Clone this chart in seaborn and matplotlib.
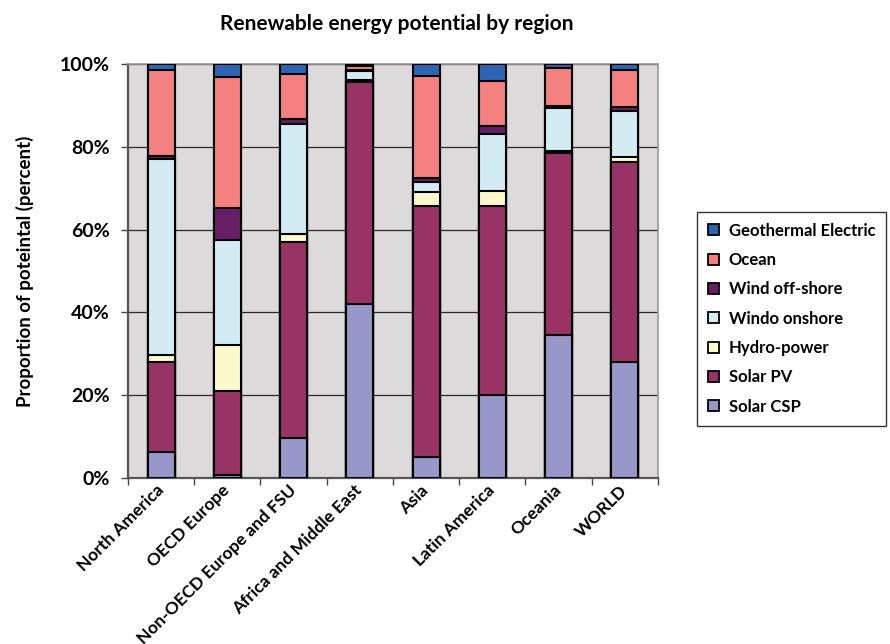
import numpy as np
import pandas as pd
import matplotlib
matplotlib.use("Agg")
import matplotlib.pyplot as plt
from matplotlib.patches import Patch
from matplotlib.ticker import PercentFormatter, FixedLocator
import seaborn as sns

regions = ["North America", "OECD Europe", "Non-OECD Europe and FSU",
           "Africa and Middle East", "Asia", "Latin America", "Oceania", "WORLD"]

solar_csp = [6.2, 0.8, 9.7, 42.0, 5.1, 20.1, 34.5, 28.0]
solar_pv = [21.7, 20.1, 47.2, 53.7, 60.6, 45.6, 44.1, 48.4]
hydro = [1.8, 11.3, 2.0, 0.4, 3.3, 3.7, 0.3, 1.2]
wind_onshore = [47.3, 25.2, 26.5, 2.1, 2.6, 13.7, 10.4, 11.1]
wind_offshore = [0.8, 7.8, 1.2, 0.4, 0.8, 2.0, 0.6, 0.8]
ocean = [20.8, 31.7, 11.1, 0.9, 24.7, 10.9, 9.1, 9.1]
geothermal = [1.4, 3.1, 2.3, 0.5, 2.9, 4.0, 1.0, 1.4]

series_names = ["Solar CSP", "Solar PV", "Hydro-power", "Windo onshore",
                "Wind off-shore", "Ocean", "Geothermal Electric"]
series_values = [solar_csp, solar_pv, hydro, wind_onshore,
                 wind_offshore, ocean, geothermal]
series_colors = ["#9797C9", "#993366", "#FCFACC", "#D3ECF3",
                 "#661F66", "#F48080", "#2E64B4"]

sns.set_theme(style="white")
plt.rcParams["font.family"] = ["Lato", "DejaVu Sans"]
plt.rcParams["font.weight"] = "bold"
for key in ["text.color", "axes.labelcolor", "xtick.color", "ytick.color"]:
    plt.rcParams[key] = "black"

fig = plt.figure(figsize=(8.9, 6.44), dpi=100)
ax = fig.add_axes([0.1438, 0.2578, 0.5955, 0.6428])
ax.set_facecolor("#DCDADA")

# stacked bars: draw cumulative totals from the top segment down
df = pd.DataFrame(dict(zip(series_names, series_values)), index=regions)
cum = df.cumsum(axis=1)
for name, color in reversed(list(zip(series_names, series_colors))):
    sns.barplot(x=regions, y=cum[name].values, order=regions, color=color,
                saturation=1, width=0.41, edgecolor="black", linewidth=1.5,
                errorbar=None, ax=ax, zorder=3)

ax.set_ylim(0, 100)
ax.set_xlim(-0.5, len(regions) - 0.5)
ax.yaxis.set_major_locator(FixedLocator([0, 20, 40, 60, 80, 100]))
ax.yaxis.set_major_formatter(PercentFormatter(decimals=0))
ax.grid(axis="y", color="#2a2a2a", linewidth=0.9, zorder=1)
ax.set_axisbelow(True)

# category ticks sit between the bars
ax.set_xticks(np.arange(len(regions)))
ax.set_xticks(np.arange(len(regions) + 1) - 0.5, minor=True)
ax.tick_params(axis="x", which="major", length=0, pad=7)
ax.tick_params(axis="x", which="minor", length=5, width=1, color="#444444",
               direction="out", bottom=True)
ax.tick_params(axis="y", length=5, width=1, color="#444444", direction="out",
               left=True, pad=8, labelsize=14)
ax.set_xticklabels(regions, rotation=45, ha="right", va="center",
                   rotation_mode="anchor", fontsize=12.5, fontweight="bold")
for lbl in ax.get_yticklabels():
    lbl.set_fontweight("bold")

for side in ["left", "bottom"]:
    ax.spines[side].set_color("#555555")
    ax.spines[side].set_linewidth(1.6)
for side in ["top", "right"]:
    ax.spines[side].set_color("#9a9a9a")
    ax.spines[side].set_linewidth(1.2)

ax.set_xlabel("")
ax.set_ylabel("Proportion of poteintal (percent)", fontsize=13.5,
              fontweight="bold", labelpad=19)
fig.suptitle("Renewable energy potential by region", x=0.446, y=0.978,
             fontsize=15, fontweight="bold")

handles = [Patch(facecolor=c, edgecolor="black", linewidth=1.3, label=n)
           for n, c in zip(series_names, series_colors)][::-1]
leg = fig.legend(handles=handles, loc="center right",
                 bbox_to_anchor=(0.9955, 0.505), frameon=True, fancybox=False,
                 edgecolor="black", fontsize=12, handlelength=0.65,
                 handleheight=0.65, handletextpad=0.6, labelspacing=0.8,
                 borderpad=0.65, borderaxespad=0)
leg.get_frame().set_linewidth(1.0)
for t in leg.get_texts():
    t.set_fontweight("bold")

fig.savefig("out.png", dpi=100)
